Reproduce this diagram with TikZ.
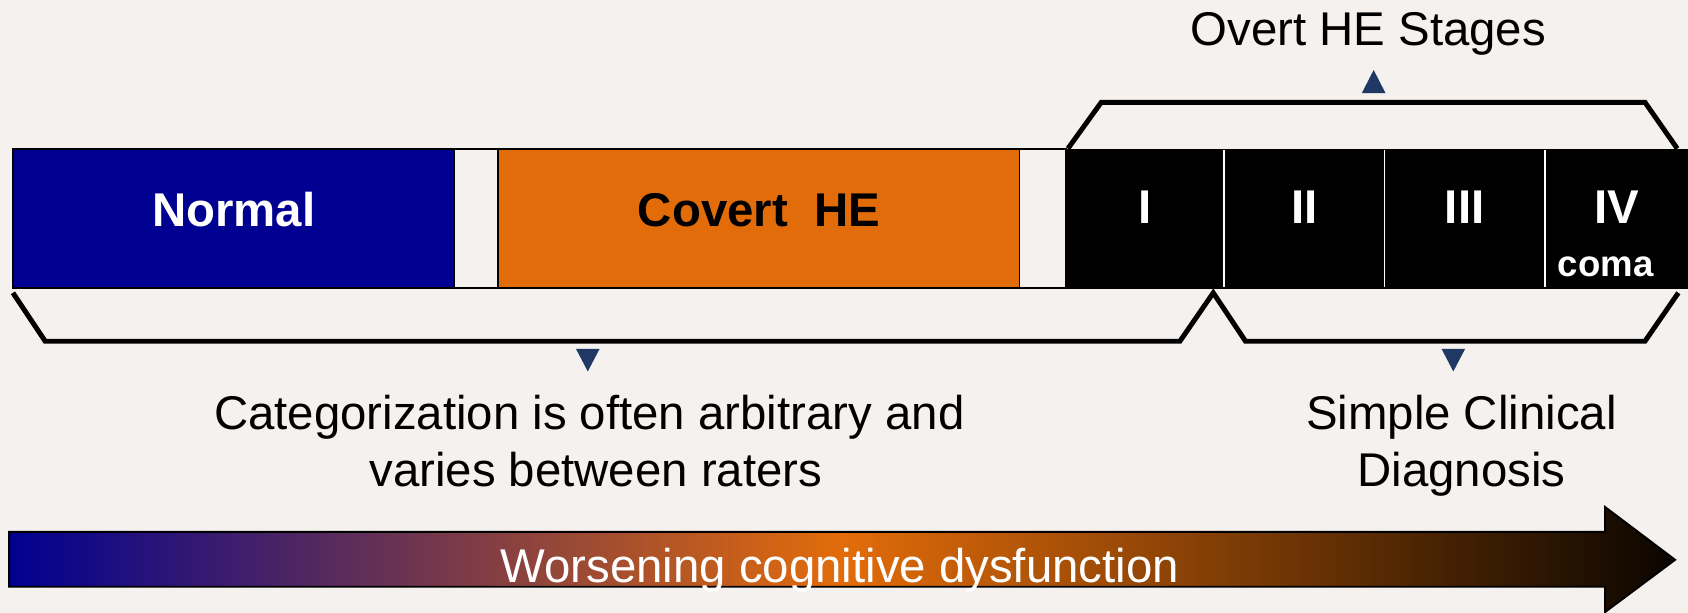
\documentclass[tikz,border=0pt]{standalone}
\usepackage{fontspec}
\setmainfont{Liberation Sans}
\definecolor{bg}{RGB}{244,241,238}
\definecolor{navy}{RGB}{0,0,145}
\definecolor{heorange}{RGB}{227,108,10}
\definecolor{trinavy}{RGB}{31,56,100}
\definecolor{darkend}{RGB}{10,5,0}
\begin{document}
\begin{tikzpicture}[x=0.5pt,y=-0.5pt,
  boxline/.style={draw=black,line width=0.9pt},
  bracket/.style={draw=black,line width=2.3pt},
  tri/.style={fill=trinavy},
  boldlbl/.style={font=\fontsize{22}{26}\selectfont\bfseries,anchor=base,inner sep=0pt},
  smallbold/.style={font=\fontsize{17}{20}\selectfont\bfseries,anchor=base,inner sep=0pt},
  lbl/.style={font=\fontsize{22}{26.5}\selectfont,inner sep=0pt,align=center}]
\fill[bg] (0,0) rectangle (1568,569);
\useasboundingbox (0,0) rectangle (1568,569);

% bar
\draw[boxline,fill=navy] (12,138.5) rectangle (422,267.5);
\draw[boxline,fill=bg] (422,138.5) rectangle (463,267.5);
\draw[boxline,fill=heorange] (463,138.5) rectangle (947,267.5);
\draw[boxline,fill=bg] (947,138.5) rectangle (990,267.5);
\fill[black] (990,138) rectangle (1568,268);
\foreach \xx in {1137,1286,1435}
  \draw[white,line width=0.8pt] (\xx,139.5) -- (\xx,266.5);

\node[boldlbl,text=white] (normal) at (217,210) {Normal};
\node[boldlbl] (covert) at (705,210) {Covert\ \ HE};
\node[boldlbl,text=white] (s1) at (1063.5,208) {I};
\node[boldlbl,text=white] (s2) at (1211.5,208) {II};
\node[boldlbl,text=white] (s3) at (1360.5,208) {III};
\node[boldlbl,text=white] (s4) at (1501.5,208) {IV};
\node[smallbold,text=white] (coma) at (1491.5,257) {coma};

% top bracket
\draw[bracket] (992,138) -- (1023,95) -- (1528,95) -- (1558,138);
\fill[tri] (1265,86.5) -- (1276,65) -- (1287,86.5) -- cycle;
\node[lbl,anchor=base] (overt) at (1271,42) {Overt HE Stages};

% bottom brackets
\draw[bracket] (12,272) -- (42,317) -- (1096,317) -- (1127,272) -- (1157,317) -- (1528,317) -- (1559,272);
\fill[tri] (535,324) -- (557,324) -- (546,345) -- cycle;
\fill[tri] (1339,324) -- (1361,324) -- (1350,345) -- cycle;

\node[lbl,anchor=base] (categ) at (553.5,451.5) {Categorization is often arbitrary and\hspace*{0.278em}\\varies between raters};
\node[lbl,anchor=base] (simple) at (1357.5,451.5) {Simple Clinical\\Diagnosis};

% gradient arrow
\path[left color=navy,right color=darkend,middle color=heorange]
  (8.5,494) -- (1491,494) -- (1491,471) -- (1556,520) -- (1491,568.5) -- (1491,545) -- (8.5,545) -- cycle;
\draw[black,line width=0.9pt,line join=miter]
  (8.5,494) -- (1491,494) -- (1491,471) -- (1556,520) -- (1491,568.5) -- (1491,545) -- (8.5,545) -- cycle;
\node[lbl,anchor=base,text=white] (worse) at (780,541.5) {Worsening cognitive dysfunction};
\end{tikzpicture}
\end{document}
